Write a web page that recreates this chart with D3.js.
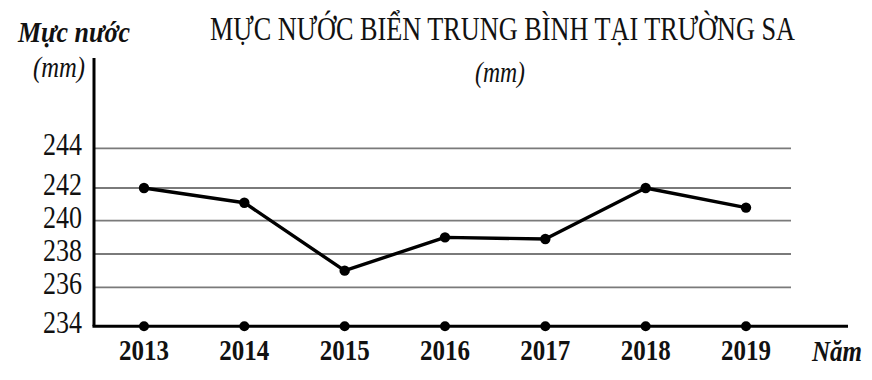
<!DOCTYPE html>
<html>
<head>
<meta charset="utf-8">
<script src="https://cdn.jsdelivr.net/npm/d3@7/dist/d3.min.js"></script>
<style>
  html, body { margin: 0; padding: 0; background: #fff; }
  svg { display: block; }
  text { font-family: "Liberation Serif", "Times New Roman", serif; fill: #111; }
</style>
</head>
<body>
<svg id="chart" width="872" height="380"></svg>
<script>
// ---- data ----
const years = ["2013", "2014", "2015", "2016", "2017", "2018", "2019"];
const seaLevel = [242, 241.1, 237, 239, 238.9, 242, 240.8];
const yTicks = [234, 236, 238, 240, 242, 244];
const titleText = "MỰC NƯỚC BIỂN TRUNG BÌNH TẠI TRƯỜNG SA";
const unitText = "(mm)";
const yAxisTitle = "Mực nước";
const xAxisTitle = "Năm";

const svg = d3.select("#chart");

// scales (the source chart uses uneven gridline spacing)
const x = d3.scalePoint().domain(years).range([144, 746]);
const y = d3.scaleLinear()
  .domain([234, 236, 238, 240, 242, 244])
  .range([326.3, 287.3, 254, 220.7, 188, 148.3]);

const axisX0 = 94, axisX1 = 848, gridX1 = 791;

// gridlines
svg.append("g").selectAll("line")
  .data(yTicks.filter(d => d !== 234))
  .join("line")
  .attr("x1", axisX0).attr("x2", gridX1)
  .attr("y1", d => y(d)).attr("y2", d => y(d))
  .attr("stroke", "#7a7a7a").attr("stroke-width", 1.8);

// y tick labels
svg.append("g").selectAll("text")
  .data(yTicks)
  .join("text")
  .attr("x", 82).attr("y", d => y(d) + 7)
  .attr("text-anchor", "end")
  .attr("font-size", 31)
  .attr("textLength", 39).attr("lengthAdjust", "spacingAndGlyphs")
  .text(d => d);

// axes lines
svg.append("line")
  .attr("x1", axisX0).attr("x2", axisX0)
  .attr("y1", 58).attr("y2", y(234))
  .attr("stroke", "#000").attr("stroke-width", 3);
svg.append("line")
  .attr("x1", axisX0 - 1.5).attr("x2", axisX1)
  .attr("y1", y(234)).attr("y2", y(234))
  .attr("stroke", "#000").attr("stroke-width", 3);

// x-axis markers
svg.append("g").selectAll("circle")
  .data(years)
  .join("circle")
  .attr("cx", d => x(d)).attr("cy", y(234)).attr("r", 5)
  .attr("fill", "#000");

// x labels
svg.append("g").selectAll("text")
  .data(years)
  .join("text")
  .attr("x", d => x(d)).attr("y", 360)
  .attr("text-anchor", "middle")
  .attr("font-size", 29).attr("font-weight", "bold")
  .attr("textLength", 50).attr("lengthAdjust", "spacingAndGlyphs")
  .text(d => d);

// line
const pts = years.map((yr, i) => [x(yr), y(seaLevel[i])]);
svg.append("path")
  .attr("d", d3.line()(pts))
  .attr("fill", "none").attr("stroke", "#000")
  .attr("stroke-width", 3.4).attr("stroke-linejoin", "round");
svg.append("g").selectAll("circle")
  .data(pts)
  .join("circle")
  .attr("cx", d => d[0]).attr("cy", d => d[1]).attr("r", 5.2)
  .attr("fill", "#000");

// titles
svg.append("text")
  .attr("x", 210).attr("y", 39.5)
  .attr("font-size", 33)
  .attr("textLength", 585).attr("lengthAdjust", "spacingAndGlyphs")
  .text(titleText);
svg.append("text")
  .attr("x", 500).attr("y", 82)
  .attr("text-anchor", "middle")
  .attr("font-size", 30).attr("font-style", "italic")
  .attr("textLength", 50).attr("lengthAdjust", "spacingAndGlyphs")
  .text(unitText);

svg.append("text")
  .attr("x", 18).attr("y", 41.5)
  .attr("font-size", 30).attr("font-style", "italic").attr("font-weight", "bold")
  .attr("textLength", 112).attr("lengthAdjust", "spacingAndGlyphs")
  .text(yAxisTitle);
svg.append("text")
  .attr("x", 33).attr("y", 77)
  .attr("font-size", 29).attr("font-style", "italic")
  .attr("textLength", 52).attr("lengthAdjust", "spacingAndGlyphs")
  .text(unitText);

svg.append("text")
  .attr("x", 812).attr("y", 361)
  .attr("font-size", 29).attr("font-style", "italic").attr("font-weight", "bold")
  .attr("textLength", 50).attr("lengthAdjust", "spacingAndGlyphs")
  .text(xAxisTitle);
</script>
</body>
</html>
